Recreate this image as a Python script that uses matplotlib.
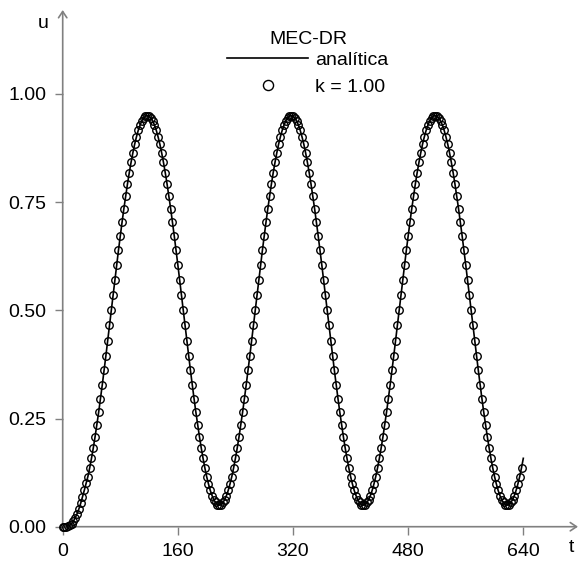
import numpy as np
import matplotlib
matplotlib.use("Agg")
import matplotlib.pyplot as plt

plt.rcParams['font.family'] = ['Liberation Sans', 'DejaVu Sans']

# deslocamento u(t), amostrado a cada 2.5 unidades de tempo
t_step = 2.5
u = [
    0.000, 0.000, 0.000, 0.001, 0.003, 0.007, 0.013, 0.021, 0.030, 0.041, 0.054, 0.069, 0.084, 0.100,
    0.116, 0.136, 0.158, 0.182, 0.208, 0.236, 0.265, 0.296, 0.328, 0.361, 0.395, 0.430, 0.465, 0.500,
    0.535, 0.570, 0.605, 0.639, 0.672, 0.704, 0.735, 0.764, 0.792, 0.818, 0.842, 0.864, 0.884, 0.901,
    0.916, 0.928, 0.938, 0.944, 0.949,
    0.950, 0.949, 0.944, 0.938, 0.928, 0.916, 0.901, 0.884, 0.864, 0.842, 0.818, 0.792, 0.764, 0.735,
    0.704, 0.672, 0.639, 0.605, 0.570, 0.535, 0.500, 0.465, 0.430, 0.395, 0.361, 0.328, 0.296, 0.265,
    0.236, 0.208, 0.182, 0.158, 0.136, 0.116, 0.099, 0.084, 0.072, 0.062, 0.056, 0.051,
    0.050, 0.051, 0.056, 0.062, 0.072, 0.084, 0.099, 0.116, 0.136, 0.158, 0.182, 0.208, 0.236, 0.265,
    0.296, 0.328, 0.361, 0.395, 0.430, 0.465, 0.500, 0.535, 0.570, 0.605, 0.639, 0.672, 0.704, 0.735,
    0.764, 0.792, 0.818, 0.842, 0.864, 0.884, 0.901, 0.916, 0.928, 0.938, 0.944, 0.949,
    0.950, 0.949, 0.944, 0.938, 0.928, 0.916, 0.901, 0.884, 0.864, 0.842, 0.818, 0.792, 0.764, 0.735,
    0.704, 0.672, 0.639, 0.605, 0.570, 0.535, 0.500, 0.465, 0.430, 0.395, 0.361, 0.328, 0.296, 0.265,
    0.236, 0.208, 0.182, 0.158, 0.136, 0.116, 0.099, 0.084, 0.072, 0.062, 0.056, 0.051,
    0.050, 0.051, 0.056, 0.062, 0.072, 0.084, 0.099, 0.116, 0.136, 0.158, 0.182, 0.208, 0.236, 0.265,
    0.296, 0.328, 0.361, 0.395, 0.430, 0.465, 0.500, 0.535, 0.570, 0.605, 0.639, 0.672, 0.704, 0.735,
    0.764, 0.792, 0.818, 0.842, 0.864, 0.884, 0.901, 0.916, 0.928, 0.938, 0.944, 0.949,
    0.950, 0.949, 0.944, 0.938, 0.928, 0.916, 0.901, 0.884, 0.864, 0.842, 0.818, 0.792, 0.764, 0.735,
    0.704, 0.672, 0.639, 0.605, 0.570, 0.535, 0.500, 0.465, 0.430, 0.395, 0.361, 0.328, 0.296, 0.265,
    0.236, 0.208, 0.182, 0.158, 0.136, 0.116, 0.099, 0.084, 0.072, 0.062, 0.056, 0.051,
    0.050, 0.051, 0.056, 0.062, 0.072, 0.084, 0.099, 0.116, 0.136, 0.158,
]
t = np.arange(len(u)) * t_step

x_ticks = [0, 160, 320, 480, 640]
y_ticks = [0.00, 0.25, 0.50, 0.75, 1.00]

W, H = 579, 570
fig = plt.figure(figsize=(W / 100, H / 100), dpi=100)
x0, x1, y0, y1 = 62.7, 578, 526.7, 10
ax = fig.add_axes([x0 / W, 1 - y0 / H, (x1 - x0) / W, (y0 - y1) / H])

ax.plot(t, u, color='black', lw=1.2, label='analítica', clip_on=False, zorder=3)
ax.plot(t[:-1], u[:-1], ls='none', marker='o', ms=5.4, mfc='none', mec='black',
        mew=1.0, label='k = 1.00', clip_on=False, zorder=4)

ax.set_xlim(0, (x1 - x0) / 0.7197)
ax.set_ylim(0, 1.194)
ax.set_xticks(x_ticks)
ax.set_yticks(y_ticks)
ax.set_yticklabels([f'{v:.2f}' for v in y_ticks])
ax.tick_params(direction='out', length=5.5, width=1.0, color='#808080',
               labelsize=14, pad=6.5)

for s in ax.spines.values():
    s.set_visible(False)
arrow = dict(arrowstyle='->,head_length=0.45,head_width=0.3', color='#808080',
             lw=1.2, shrinkA=0, shrinkB=0)
ax.annotate('', xy=(1, 0), xytext=(0, 0), xycoords='axes fraction', arrowprops=arrow)
ax.annotate('', xy=(0, 1), xytext=(0, 0), xycoords='axes fraction', arrowprops=arrow)

fig.text(43 / W, 1 - 24 / H, 'u', fontsize=14, ha='center', va='center')
fig.text(571 / W, 1 - 548 / H, 't', fontsize=14, ha='center', va='center')

# legenda: título à parte para controlar o espaçamento
fig.text(308.5 / W, 1 - 39.5 / H, 'MEC-DR', fontsize=14, ha='center', va='center')
ax.legend(loc='upper left', bbox_to_anchor=(226.7 / W, 1 - 51.5 / H),
          bbox_transform=fig.transFigure, frameon=False, fontsize=14,
          borderpad=0, borderaxespad=0, handlelength=4.2, handletextpad=0.36,
          labelspacing=0.49, markerscale=1.35)

fig.savefig('out.png', dpi=100)
